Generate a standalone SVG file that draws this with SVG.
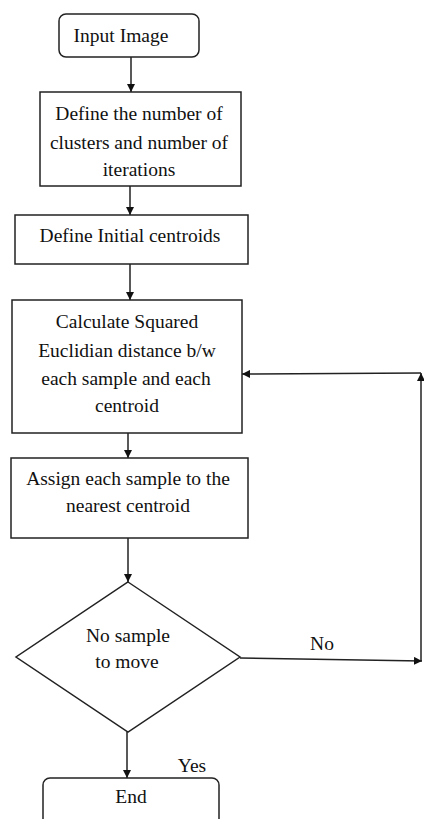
<svg xmlns="http://www.w3.org/2000/svg" width="424" height="819" viewBox="0 0 424 819">
<style>
.box{fill:#fff;stroke:#222;stroke-width:1.5}
.t{font-family:"Liberation Serif","Times New Roman",serif;font-size:19.5px;fill:#111;text-anchor:middle}
.c{fill:none;stroke:#222;stroke-width:1.5}
</style>
<defs>
<marker id="ah" viewBox="0 0 10 10" refX="10" refY="5" markerWidth="8" markerHeight="8" markerUnits="userSpaceOnUse" orient="auto"><path d="M0,0 L10,5 L0,10 z" fill="#111"/></marker>
</defs>
<rect width="424" height="819" fill="#fff"/>
<g id="connectors">
<line class="c" x1="131" y1="57" x2="131" y2="92" marker-end="url(#ah)"/>
<line class="c" x1="130" y1="186" x2="130" y2="215" marker-end="url(#ah)"/>
<line class="c" x1="130" y1="264" x2="130" y2="300" marker-end="url(#ah)"/>
<line class="c" x1="128" y1="433" x2="128" y2="458" marker-end="url(#ah)"/>
<line class="c" x1="128" y1="538" x2="128" y2="582" marker-end="url(#ah)"/>
<line class="c" x1="127" y1="732" x2="127" y2="778" marker-end="url(#ah)"/>
<line class="c" x1="240" y1="658" x2="422" y2="661" marker-end="url(#ah)"/>
<line class="c" x1="421" y1="661" x2="421" y2="373" marker-end="url(#ah)"/>
<line class="c" x1="421" y1="373" x2="242" y2="374" marker-end="url(#ah)"/>
<text class="t" x="322" y="650">No</text>
<text class="t" x="192" y="772">Yes</text>
</g>
<g id="input">
<rect class="box" x="59" y="14" width="140" height="43" rx="7"/>
<text class="t" x="121" y="42">Input Image</text>
</g>
<g id="define-clusters">
<rect class="box" x="40" y="92" width="201" height="94"/>
<text class="t" x="139" y="120">Define the number of</text>
<text class="t" x="139" y="149">clusters and number of</text>
<text class="t" x="139" y="176">iterations</text>
</g>
<g id="define-centroids">
<rect class="box" x="15" y="215" width="233" height="49"/>
<text class="t" x="130" y="242">Define Initial centroids</text>
</g>
<g id="calculate">
<rect class="box" x="12" y="300" width="230" height="133"/>
<text class="t" x="127" y="328">Calculate Squared</text>
<text class="t" x="127" y="357">Euclidian distance b/w</text>
<text class="t" x="126" y="385">each sample and each</text>
<text class="t" x="127" y="412">centroid</text>
</g>
<g id="assign">
<rect class="box" x="11" y="458" width="237" height="80"/>
<text class="t" x="128" y="485">Assign each sample to the</text>
<text class="t" x="128" y="512">nearest centroid</text>
</g>
<g id="decision">
<polygon class="box" points="128,582 240,657 128,732 16,657"/>
<text class="t" x="128" y="642">No sample</text>
<text class="t" x="127" y="668">to move</text>
</g>
<g id="end">
<rect class="box" x="43" y="778" width="176" height="50" rx="7"/>
<text class="t" x="131" y="803">End</text>
</g>
</svg>
